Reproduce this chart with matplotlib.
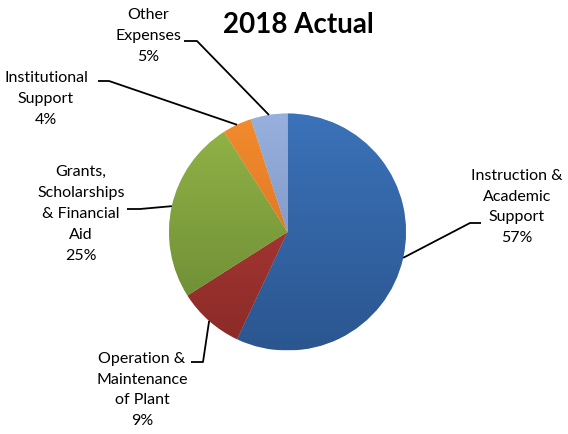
import numpy as np
import matplotlib
matplotlib.use("Agg")
import matplotlib.pyplot as plt
from matplotlib.colors import to_rgb

W, H = 568, 434

# data
labels = ["Instruction &\nAcademic\nSupport",
          "Operation &\nMaintenance\nof Plant",
          "Grants,\nScholarships\n& Financial\nAid",
          "Institutional\nSupport",
          "Other\nExpenses"]
shares = [57, 9, 25, 4, 5]
top_colors = ["#3B72B9", "#B8403B", "#93B547", "#F28C2E", "#97B0DE"]
bottom_colors = ["#2B5690", "#8A2A27", "#678632", "#D2681C", "#7288B4"]

# layout, in pixels from the top-left corner
cx, cy, R = 287.5, 232.0, 118.5
text_xy = [(517, 207), (142, 390), (81, 214), (46, 99), (148, 36)]
elbow_xy = [(470, 223), (203, 362), (140, 209), (109, 81), (197, 41)]
tail_xy = [(481, 223), (191, 362), (127, 209), (98, 81), (184, 41)]

plt.rcParams['font.family'] = ['Lato', 'DejaVu Sans']

fig = plt.figure(figsize=(W / 100, H / 100), dpi=100)
ax = fig.add_axes([0, 0, 1, 1])

wedges, _ = ax.pie(shares, colors=top_colors, startangle=90, counterclock=False,
                   center=(cx, H - cy), radius=R, frame=True,
                   wedgeprops=dict(edgecolor="white", linewidth=0.4))

# vertical shading inside each slice
for w, c0, c1 in zip(wedges, top_colors, bottom_colors):
    t = np.linspace(0, 1, 200)[:, None, None]
    grad = (1 - t) * np.array(to_rgb(c0)) + t * np.array(to_rgb(c1))
    im = ax.imshow(grad, extent=(cx - R, cx + R, H - cy - R, H - cy + R),
                   origin="upper", aspect="auto", interpolation="bilinear", zorder=2)
    im.set_clip_path(w)
    w.set_zorder(1)

# labels with leader lines
for w, lab, s, txy, exy, lxy in zip(wedges, labels, shares, text_xy, elbow_xy, tail_xy):
    a = np.deg2rad((w.theta1 + w.theta2) / 2)
    px, py = cx + R * np.cos(a), H - cy + R * np.sin(a)
    ax.plot([px, exy[0], lxy[0]], [py, H - exy[1], H - lxy[1]],
            color="black", lw=1.3, zorder=3, solid_capstyle="butt")
    ax.text(txy[0], H - txy[1], f"{lab}\n{s}%", ha="center", va="center",
            fontsize=11.5, linespacing=1.62, color="black")

ax.text(298, H - 25, "2018 Actual", ha="center", va="center",
        fontsize=20, fontweight="bold", color="black")

ax.set_xlim(0, W)
ax.set_ylim(0, H)
ax.set_aspect("auto")
ax.axis("off")

fig.savefig("out.png", dpi=100, facecolor="white")
